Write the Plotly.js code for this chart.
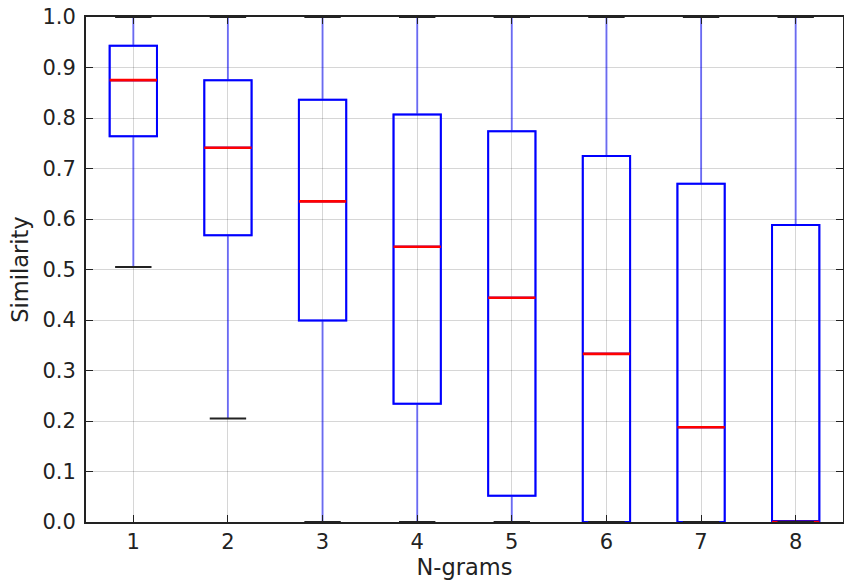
<!DOCTYPE html>
<html>
<head>
<meta charset="utf-8">
<script src="https://cdn.plot.ly/plotly-3.0.1.min.js"></script>
<style>html,body{margin:0;padding:0;background:#fff;}#chart{width:844px;height:588px;}</style>
</head>
<body>
<div id="chart"></div>
<script>
// Data
const ngrams = [1, 2, 3, 4, 5, 6, 7, 8];
const q1Vals = [0.764, 0.568, 0.399, 0.234, 0.052, 0.0, 0.0, 0.0];
const medianVals = [0.875, 0.741, 0.635, 0.545, 0.444, 0.333, 0.1875, 0.0];
const q3Vals = [0.943, 0.875, 0.836, 0.807, 0.774, 0.725, 0.670, 0.588];
const lowerWhisker = [0.505, 0.205, 0.0, 0.0, 0.0, 0.0, 0.0, 0.0];
const upperWhisker = [1.0, 1.0, 1.0, 1.0, 1.0, 1.0, 1.0, 1.0];
const yTicks = [0.0, 0.1, 0.2, 0.3, 0.4, 0.5, 0.6, 0.7, 0.8, 0.9, 1.0];
const yTickText = ['0.0','0.1','0.2','0.3','0.4','0.5','0.6','0.7','0.8','0.9','1.0'];

const FONT = 'DejaVu Sans, sans-serif';
const INK = '#222222';
const BOXW = 0.5;
const clear = 'rgba(0,0,0,0)';

const whiskers = {
  type: 'box', x: ngrams, q1: q1Vals, median: medianVals, q3: q3Vals,
  lowerfence: lowerWhisker, upperfence: upperWhisker,
  width: BOXW, whiskerwidth: 0, boxpoints: false,
  line: {color: 'rgba(0,0,255,0.5)', width: 2}, fillcolor: clear,
  hoverinfo: 'skip', showlegend: false
};
const boxes = {
  type: 'box', x: ngrams, q1: q1Vals, median: medianVals, q3: q3Vals,
  lowerfence: q1Vals, upperfence: q3Vals,
  width: BOXW, whiskerwidth: 0, boxpoints: false,
  line: {color: '#0000ff', width: 2}, fillcolor: clear,
  hoverinfo: 'skip', showlegend: false
};
const medians = {
  type: 'box', x: ngrams, q1: medianVals, median: medianVals, q3: medianVals,
  lowerfence: medianVals, upperfence: medianVals,
  width: BOXW, whiskerwidth: 0, boxpoints: false,
  line: {color: '#ff0000', width: 2.6}, fillcolor: clear,
  hoverinfo: 'skip', showlegend: false
};
const capX = ngrams.concat(ngrams);
const capY = lowerWhisker.concat(upperWhisker);
const caps = {
  type: 'scatter', mode: 'markers', x: capX, y: capY, cliponaxis: false,
  marker: {symbol: 'line-ew', size: 26, line: {color: INK, width: 2}},
  hoverinfo: 'skip', showlegend: false
};

const layout = {
  width: 844, height: 588,
  margin: {l: 86, r: 1, t: 17, b: 66},
  paper_bgcolor: '#fff', plot_bgcolor: '#fff',
  boxmode: 'overlay',
  showlegend: false,
  font: {family: FONT, color: INK, size: 21},
  xaxis: {
    range: [0.5, 8.5], tickvals: ngrams, ticktext: ngrams.map(String),
    ticks: 'inside', ticklen: 7, tickwidth: 1, tickcolor: INK,
    showline: true, linecolor: INK, linewidth: 2, mirror: 'ticks',
    showgrid: true, gridcolor: 'rgba(0,0,0,0.16)', gridwidth: 1,
    zeroline: false, tickfont: {family: FONT, size: 21, color: INK},
    ticklabelstandoff: 0,
    title: {text: 'N-grams', font: {family: FONT, size: 22.5, color: INK}, standoff: 6}
  },
  yaxis: {
    range: [0, 1], tickvals: yTicks, ticktext: yTickText,
    ticks: 'inside', ticklen: 7, tickwidth: 1, tickcolor: INK,
    showline: true, linecolor: INK, linewidth: 2, mirror: 'ticks',
    showgrid: true, gridcolor: 'rgba(0,0,0,0.16)', gridwidth: 1,
    zeroline: false, tickfont: {family: FONT, size: 21, color: INK},
    ticklabelstandoff: 4,
    title: {text: 'Similarity', font: {family: FONT, size: 22.5, color: INK}, standoff: 8}
  }
};

Plotly.newPlot('chart', [whiskers, boxes, medians, caps], layout, {staticPlot: true, displayModeBar: false});
</script>
</body>
</html>
